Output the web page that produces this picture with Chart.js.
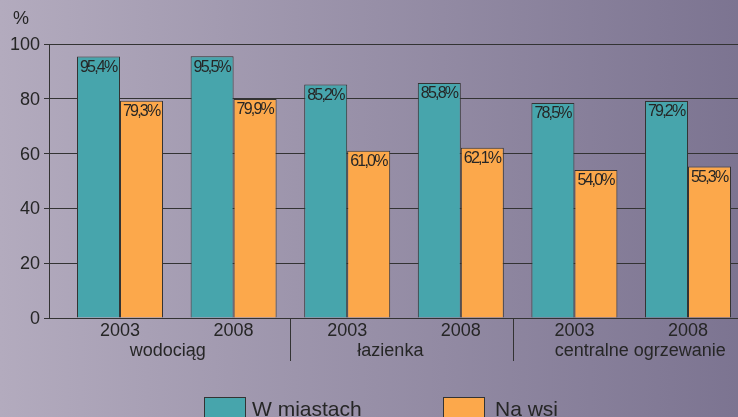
<!DOCTYPE html>
<html>
<head>
<meta charset="utf-8">
<script src="https://cdn.jsdelivr.net/npm/chart.js@4/dist/chart.umd.min.js"></script>
<style>
  html, body { margin: 0; padding: 0; overflow: hidden; }
  #wrap { width: 738px; height: 417px; }
</style>
</head>
<body>
<div id="wrap"><canvas id="chart" width="738" height="417"></canvas></div>
<script>
// data
const years = ['2003', '2008', '2003', '2008', '2003', '2008'];
const groups = ['wodociąg', 'łazienka', 'centralne ogrzewanie'];
const groupPos = [0.42, 2.38, 4.58];
const separators = [1.5, 3.46];
const miasto = [95.4, 95.5, 85.2, 85.8, 78.5, 79.2];
const wies = [79.3, 79.9, 61.0, 62.1, 54.0, 55.3];
const yTicks = [0, 20, 40, 60, 80, 100];

const FONT = "'Liberation Sans', Arial, sans-serif";
const INK = '#262626';

const fmt = v => v.toFixed(1).replace('.', ',') + '%';

const background = {
    id: 'background',
    beforeDraw(chart) {
        const { ctx, width, height } = chart;
        const g = ctx.createLinearGradient(0, 0, width, 0);
        g.addColorStop(0, '#b3abbe');
        g.addColorStop(1, '#7c7491');
        ctx.save();
        ctx.fillStyle = g;
        ctx.fillRect(0, 0, width, height);
        ctx.restore();
    }
};

const extras = {
    id: 'extras',
    afterDatasetsDraw(chart) {
        const { ctx } = chart;
        const x = chart.scales.x;
        const y = chart.scales.y;
        ctx.save();
        // value labels inside bars, tightly set like the original
        ctx.font = '16px ' + FONT;
        ctx.letterSpacing = '-1.8px';
        ctx.fillStyle = INK;
        ctx.textAlign = 'left';
        ctx.textBaseline = 'top';
        chart.data.datasets.forEach((ds, di) => {
            chart.getDatasetMeta(di).data.forEach((bar, i) => {
                ctx.fillText(fmt(ds.data[i].y), bar.x - bar.width / 2 + 3, bar.y + 3);
            });
        });
        ctx.letterSpacing = '0px';
        // "%" unit
        ctx.font = '18px ' + FONT;
        ctx.textBaseline = 'alphabetic';
        ctx.fillText('%', 13, 24);
        // group labels and separators
        ctx.textAlign = 'center';
        groups.forEach((g, i) => ctx.fillText(g, x.getPixelForValue(groupPos[i]), 356));
        ctx.strokeStyle = '#333';
        ctx.lineWidth = 1;
        separators.forEach(s => {
            const px = Math.round(x.getPixelForValue(s)) + 0.5;
            ctx.beginPath();
            ctx.moveTo(px, y.bottom);
            ctx.lineTo(px, 361);
            ctx.stroke();
        });
        // legend
        const items = [[204, 252], [443, 495]];
        ctx.font = '21px ' + FONT;
        ctx.textAlign = 'left';
        chart.data.datasets.forEach((ds, di) => {
            const [bx, tx] = items[di];
            ctx.fillStyle = ds.backgroundColor;
            ctx.fillRect(bx + 0.5, 397.5, 41, 24);
            ctx.strokeStyle = '#333';
            ctx.strokeRect(bx + 0.5, 397.5, 41, 24);
            ctx.fillStyle = INK;
            ctx.fillText(ds.label, tx, 416);
        });
        ctx.restore();
    }
};

new Chart(document.getElementById('chart'), {
    type: 'bar',
    data: {
        datasets: [
            {
                label: 'W miastach',
                data: miasto.map((v, i) => ({ x: i, y: v })),
                backgroundColor: '#47a5ac',
                borderColor: '#333',
                borderWidth: 1,
                categoryPercentage: 0.757,
                barPercentage: 1,
            },
            {
                label: 'Na wsi',
                data: wies.map((v, i) => ({ x: i, y: v })),
                backgroundColor: '#fca84b',
                borderColor: '#333',
                borderWidth: 1,
                categoryPercentage: 0.757,
                barPercentage: 1,
            },
        ],
    },
    options: {
        responsive: false,
        animation: false,
        layout: { padding: { top: 44, left: 0, right: 0, bottom: 0 } },
        plugins: { legend: { display: false }, tooltip: { enabled: false } },
        scales: {
            x: {
                type: 'linear',
                offset: false,
                min: -0.625,
                max: 5.44,
                afterBuildTicks(scale) { scale.ticks = years.map((_, i) => ({ value: i })); },
                afterFit(scale) { scale.height = 99; },
                ticks: {
                    autoSkip: false,
                    maxRotation: 0,
                    padding: 2,
                    color: INK,
                    font: { family: FONT, size: 18 },
                    callback: v => years[v],
                },
                grid: { display: false, drawTicks: false, tickLength: 0 },
                border: { display: true, color: '#333', width: 1 },
            },
            y: {
                min: 0,
                max: 100,
                afterBuildTicks(scale) { scale.ticks = yTicks.map(v => ({ value: v })); },
                afterFit(scale) { scale.width = 49; },
                ticks: {
                    padding: 4,
                    labelOffset: 1,
                    color: INK,
                    font: { family: FONT, size: 18 },
                },
                grid: { color: '#333', lineWidth: 1, tickLength: 5 },
                border: { display: true, color: '#333', width: 1 },
            },
        },
    },
    plugins: [background, extras],
});
</script>
</body>
</html>
